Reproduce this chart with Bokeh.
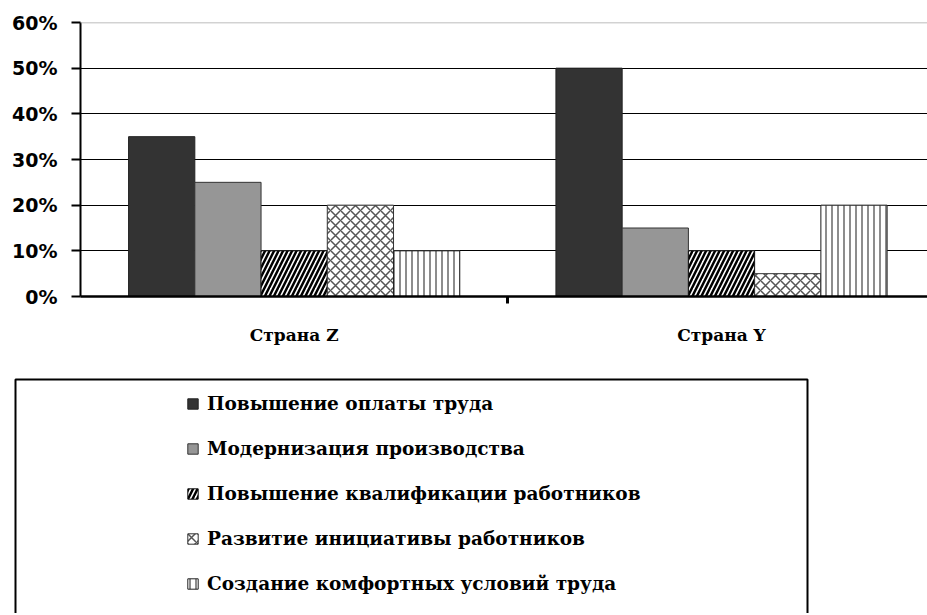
from bokeh.plotting import figure
from bokeh.layouts import column
from bokeh.models import (Range1d, FixedTicker, Span, Legend, LegendItem,
                          BoxAnnotation, ColumnDataSource)
from bokeh.embed import file_html
from bokeh.resources import INLINE

# ---- data ----
categories = ["Страна Z", "Страна Y"]
series_names = [
    "Повышение оплаты труда",
    "Модернизация производства",
    "Повышение квалификации работников",
    "Развитие инициативы работников",
    "Создание комфортных условий труда",
]
povyshenie_oplaty = [0.35, 0.50]
modernizatsiya = [0.25, 0.15]
kvalifikatsiya = [0.10, 0.10]
initsiativa = [0.20, 0.05]
komfort = [0.10, 0.20]
y_ticks = [0.0, 0.1, 0.2, 0.3, 0.4, 0.5, 0.6]
y_tick_labels = ["0%", "10%", "20%", "30%", "40%", "50%", "60%"]

series_values = [povyshenie_oplaty, modernizatsiya, kvalifikatsiya, initsiativa, komfort]

styles = [
    dict(fill_color="#333333", line_color="#222222"),
    dict(fill_color="#969696", line_color="#333333"),
    dict(fill_color="white", line_color="#111111", hatch_pattern="/",
         hatch_color="black", hatch_scale=9, hatch_weight=2.5),
    dict(fill_color="white", line_color="#333333", hatch_pattern="x",
         hatch_color="#555555", hatch_scale=10, hatch_weight=1.5),
    dict(fill_color="white", line_color="#222222", hatch_pattern="|",
         hatch_color="#666666", hatch_scale=6, hatch_weight=1.5),
]

bar_w = 0.155
offsets = [-2 * bar_w, -bar_w, 0.0, bar_w, 2 * bar_w]

W = 927
H1 = 370
H2 = 243

# ---------------- chart ----------------
p = figure(width=W, height=H1, output_backend="svg", toolbar_location=None,
           x_range=Range1d(0, 1.982), y_range=Range1d(0, 0.6),
           min_border_left=80, min_border_right=0, min_border_top=22,
           min_border_bottom=H1 - 296)
p.frame_align = False
p.outline_line_color = None
p.background_fill_color = "white"

sources = []
renderers = []
for vals, off, st in zip(series_values, offsets, styles):
    src = ColumnDataSource(dict(x=[i + 0.5 + off for i in range(len(categories))], top=vals))
    sources.append(src)
    r = p.vbar(x="x", top="top", width=bar_w, bottom=0, source=src, line_width=1, **st)
    renderers.append(r)

p.xaxis.ticker = FixedTicker(ticks=[i + 0.5 for i in range(len(categories))],
                             minor_ticks=[float(i) for i in range(1, len(categories))])
p.xaxis.major_label_overrides = {i + 0.5: c for i, c in enumerate(categories)}
p.xaxis.major_tick_out = 0
p.xaxis.major_tick_in = 0
p.xaxis.minor_tick_out = 7
p.xaxis.minor_tick_in = 0
p.xaxis.minor_tick_line_width = 3
p.xaxis.minor_tick_line_color = "black"
p.xaxis.axis_line_width = 2.5
p.xaxis.axis_line_color = "black"
p.xaxis.major_label_standoff = 21
p.xaxis.major_label_text_font = "DejaVu Serif"
p.xaxis.major_label_text_font_style = "bold"
p.xaxis.major_label_text_font_size = "17px"
p.xaxis.major_label_text_color = "black"

p.yaxis.ticker = FixedTicker(ticks=y_ticks)
p.yaxis.major_label_overrides = {t: l for t, l in zip(y_ticks, y_tick_labels)}
p.yaxis.major_tick_out = 9
p.yaxis.major_tick_in = 0
p.yaxis.major_tick_line_width = 2
p.yaxis.major_tick_line_color = "black"
p.yaxis.minor_tick_line_color = None
p.yaxis.axis_line_width = 2
p.yaxis.axis_line_color = "black"
p.yaxis.major_label_standoff = 14
p.yaxis.major_label_text_font = "DejaVu Sans"
p.yaxis.major_label_text_font_style = "bold"
p.yaxis.major_label_text_font_size = "19px"
p.yaxis.major_label_text_color = "black"

p.xgrid.visible = False
p.ygrid.ticker = FixedTicker(ticks=y_ticks[1:-1])
p.ygrid.grid_line_color = "black"
p.ygrid.grid_line_width = 1.2
p.add_layout(Span(location=y_ticks[-1], dimension="width", line_color="#a6a6a6", line_width=1.5))

# ---------------- legend panel ----------------
p2 = figure(width=W, height=H2, output_backend="svg", toolbar_location=None,
            x_range=Range1d(0, 1.982), y_range=Range1d(1, 2),
            x_axis_type=None, y_axis_type=None,
            min_border_left=0, min_border_right=0, min_border_top=0, min_border_bottom=0)
p2.frame_align = False
p2.outline_line_color = None
p2.grid.visible = False

# legend keys share the chart's sources (bars lie outside this panel's range)
keys = []
for src, st in zip(sources, styles):
    keys.append(p2.vbar(x="x", top="top", width=bar_w, bottom=0, source=src, line_width=1, **st))

box = BoxAnnotation(left=15, right=807, top=H2 - 9, bottom=-60,
                    left_units="screen", right_units="screen",
                    top_units="screen", bottom_units="screen",
                    fill_alpha=0, line_color="black", line_alpha=1, line_width=2)
p2.add_layout(box)

legend = Legend(items=[LegendItem(label=n, renderers=[r]) for n, r in zip(series_names, keys)],
                location=(186, 18), orientation="vertical",
                border_line_alpha=0, background_fill_alpha=0,
                padding=0, margin=0, spacing=21,
                glyph_width=13, glyph_height=13, label_height=24,
                label_standoff=8,
                label_text_font="DejaVu Serif", label_text_font_style="bold",
                label_text_font_size="18.5px", label_text_color="black")
p2.add_layout(legend, "center")

layout = column(p, p2, spacing=0)
open("out.html", "w").write(file_html(layout, INLINE))
